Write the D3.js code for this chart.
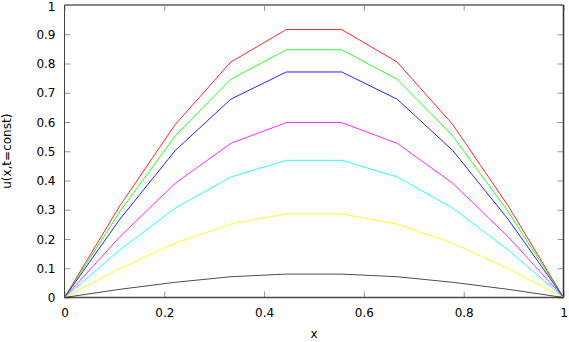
<!DOCTYPE html>
<html><head><meta charset="utf-8">
<script src="https://cdn.jsdelivr.net/npm/d3@7"></script>
<style>body{margin:0;background:#fff}svg{display:block}text{font-family:"DejaVu Sans",sans-serif;font-size:12px;fill:#000}</style>
</head><body><svg id="c" width="569" height="342"></svg>
<script>
const xs = [0, 1/9, 2/9, 3/9, 4/9, 5/9, 6/9, 7/9, 8/9, 1];
const seriesColors = ["#ff0000", "#00ff00", "#0000ff", "#ff00ff", "#00ffff", "#ffff00", "#000000", "#3a2618"];
const seriesValues = [
  [0, 0.314, 0.592, 0.805, 0.916, 0.916, 0.805, 0.592, 0.314, 0],
  [0, 0.294, 0.553, 0.746, 0.847, 0.847, 0.746, 0.553, 0.294, 0],
  [0, 0.268, 0.503, 0.678, 0.771, 0.771, 0.678, 0.503, 0.268, 0],
  [0, 0.208, 0.391, 0.527, 0.598, 0.598, 0.527, 0.391, 0.208, 0],
  [0, 0.163, 0.306, 0.412, 0.469, 0.469, 0.412, 0.306, 0.163, 0],
  [0, 0.099, 0.186, 0.251, 0.286, 0.286, 0.251, 0.186, 0.099, 0],
  [0, 0.028, 0.052, 0.071, 0.080, 0.080, 0.071, 0.052, 0.028, 0],
  [0, 0, 0, 0, 0, 0, 0, 0, 0, 0]
];
const xTicks = [0, 0.2, 0.4, 0.6, 0.8, 1];
const yTicks = [0, 0.1, 0.2, 0.3, 0.4, 0.5, 0.6, 0.7, 0.8, 0.9, 1];

const svg = d3.select("#c");
const L = 64.5, R = 563.5, T = 5, B = 297.5;
const x = d3.scaleLinear().domain([0, 1]).range([L, R]);
const y = d3.scaleLinear().domain([0, 1]).range([B, T]);

const gl = svg.append("g").attr("transform", `translate(${L},0)`)
  .call(d3.axisLeft(y).tickValues(yTicks).tickFormat(d3.format("~g")).tickSize(-6).tickPadding(9));
const gr = svg.append("g").attr("transform", `translate(${R},0)`)
  .call(d3.axisRight(y).tickValues(yTicks).tickFormat("").tickSize(-6));
const gb = svg.append("g").attr("transform", `translate(0,${B})`)
  .call(d3.axisBottom(x).tickValues(xTicks).tickFormat(d3.format("~g")).tickSize(-6).tickPadding(11));
const gt = svg.append("g").attr("transform", `translate(0,${T})`)
  .call(d3.axisTop(x).tickValues(xTicks).tickFormat("").tickSize(-6));
[gl, gr, gb, gt].forEach(g => {
  g.select(".domain").remove();
  g.selectAll(".tick line").attr("stroke", "#999").attr("stroke-width", 1);
  g.selectAll("text").style("font-family", "DejaVu Sans, sans-serif").style("font-size", "12px").attr("fill", "#000");
});
gl.selectAll("text").attr("dy", "0.35em");
gl.selectAll(".tick").filter(d => d === 1).select("text").attr("dy", "0.45em");
gb.selectAll("text").attr("dy", "0.71em");

svg.append("line").attr("x1", L).attr("x2", R).attr("y1", T).attr("y2", T).attr("stroke", "#888").attr("stroke-width", 2);
svg.append("line").attr("x1", L).attr("x2", L).attr("y1", T).attr("y2", B).attr("stroke", "#444").attr("stroke-width", 1);
svg.append("line").attr("x1", R).attr("x2", R).attr("y1", T).attr("y2", B).attr("stroke", "#333").attr("stroke-width", 1.5);

const line = d3.line().x((d, i) => x(xs[i])).y(d => y(d));
seriesValues.forEach((vals, k) => {
  svg.append("path").datum(vals).attr("d", line).attr("fill", "none")
    .attr("stroke", seriesColors[k]).attr("stroke-width", k === 7 ? 1.5 : 1)
    .attr("stroke-opacity", k === 6 ? 0.7 : 0.85);
});

svg.append("text").attr("x", (L + R) / 2).attr("y", 338).attr("text-anchor", "middle").text("x");
svg.append("text").attr("transform", `translate(11,${(T + B) / 2}) rotate(-90)`).attr("text-anchor", "middle").text("u(x,t=const)");
</script></body></html>
